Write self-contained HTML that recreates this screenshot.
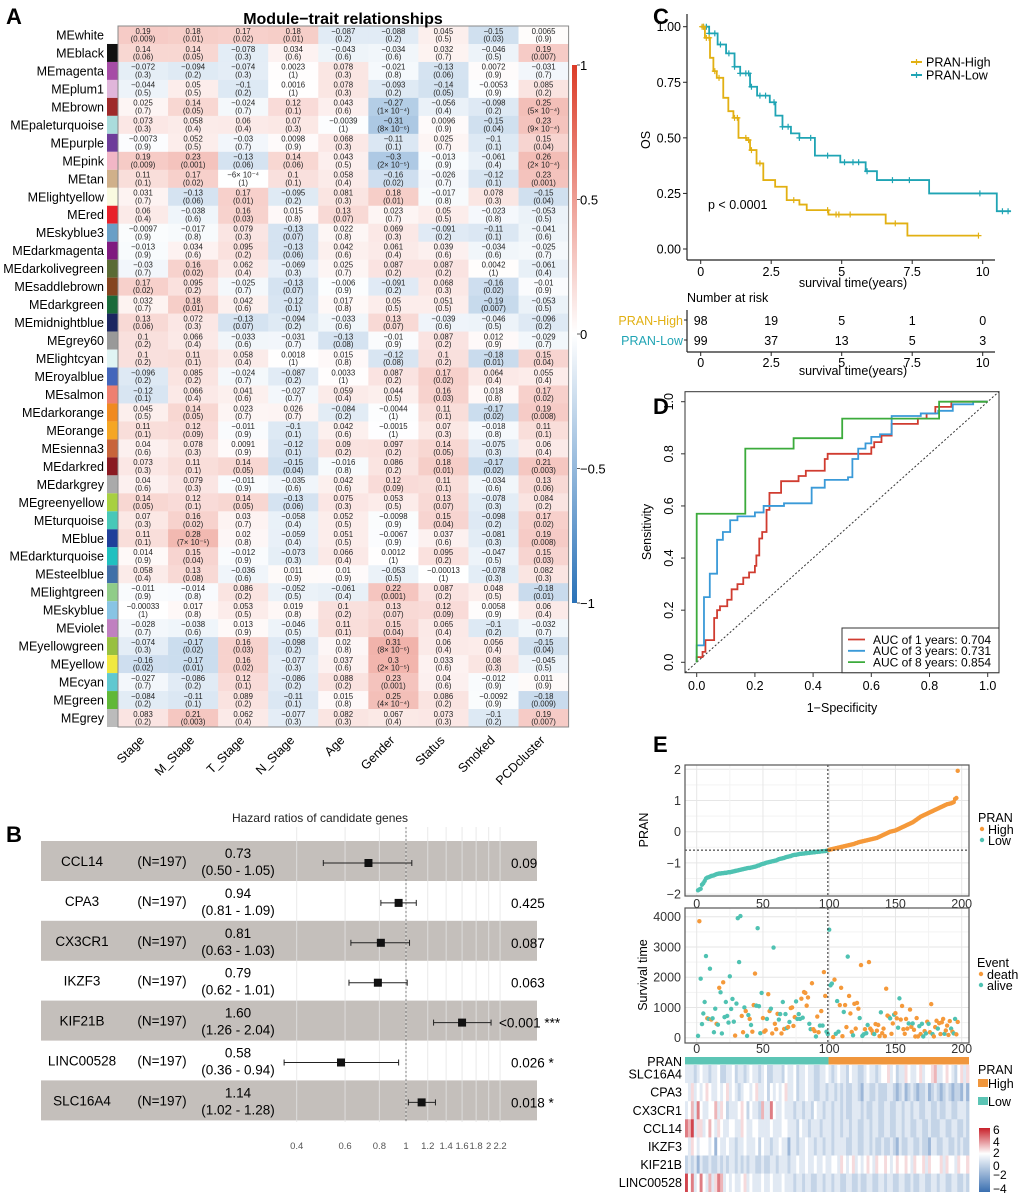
<!DOCTYPE html>
<html><head><meta charset="utf-8">
<style>
html,body{margin:0;padding:0;background:#fff;}
svg{display:block;font-family:"Liberation Sans",Arial,sans-serif;}
</style></head>
<body>
<svg id="fig" width="1020" height="1198" viewBox="0 0 1020 1198" xmlns="http://www.w3.org/2000/svg">
<defs>
<linearGradient id="gA" x1="0" y1="0" x2="0" y2="1">
<stop offset="0" stop-color="#dc3c28"/><stop offset="0.5" stop-color="#ffffff"/><stop offset="1" stop-color="#2a72b8"/>
</linearGradient>
<linearGradient id="gE" x1="0" y1="0" x2="0" y2="1">
<stop offset="0" stop-color="#c8202a"/><stop offset="0.4" stop-color="#ffffff"/><stop offset="1" stop-color="#3a6fb0"/>
</linearGradient>
</defs>
<text x="6" y="24" font-size="22" font-weight="bold">A</text>
<text x="6" y="842" font-size="22" font-weight="bold">B</text>
<text x="653" y="24" font-size="22" font-weight="bold">C</text>
<text x="653" y="414" font-size="22" font-weight="bold">D</text>
<text x="653" y="752" font-size="22" font-weight="bold">E</text>
</svg>
<script>
// ---------- Panel A data ----------
const modules=['MEwhite','MEblack','MEmagenta','MEplum1','MEbrown','MEpaleturquoise','MEpurple','MEpink','MEtan','MElightyellow','MEred','MEskyblue3','MEdarkmagenta','MEdarkolivegreen','MEsaddlebrown','MEdarkgreen','MEmidnightblue','MEgrey60','MElightcyan','MEroyalblue','MEsalmon','MEdarkorange','MEorange','MEsienna3','MEdarkred','MEdarkgrey','MEgreenyellow','MEturquoise','MEblue','MEdarkturquoise','MEsteelblue','MElightgreen','MEskyblue','MEviolet','MEyellowgreen','MEyellow','MEcyan','MEgreen','MEgrey'];
const moduleColors=['#ffffff','#111111','#a64ca6','#e0b6da','#9e2a2a','#aadcdc','#6e3d9a','#f2b6c6','#d0b08a','#fafae0','#e8202a','#6a9fc6','#7f1a7f','#5a6a34','#85441f','#1a6a3a','#1c2660','#999999','#e0f4f4','#4466bb','#ee8070','#f08a20','#f5a623','#c8643a','#8a1a22','#aaaaaa','#a8d040','#48c8b8','#1f3f9a','#20c0c0','#4070a8','#90cc88','#88c4e4','#c080c0','#98c040','#f0e840','#60c8d0','#60b838','#bbbbbb'];
const traits=['Stage','M_Stage','T_Stage','N_Stage','Age','Gender','Status','Smoked','PCDcluster'];
const corr=[
[0.19,0.18,0.17,0.18,-0.087,-0.088,0.045,-0.15,0.0065],
[0.14,0.14,-0.078,0.034,-0.043,-0.034,0.032,-0.046,0.19],
[-0.072,-0.094,-0.074,0.0023,0.078,-0.021,-0.13,0.0072,-0.031],
[-0.044,0.05,-0.1,0.0016,0.078,-0.093,-0.14,-0.0053,0.085],
[0.025,0.14,-0.024,0.12,0.043,-0.27,-0.056,-0.098,0.25],
[0.073,0.058,0.06,0.07,-0.0039,-0.31,0.0096,-0.15,0.23],
[-0.0073,0.052,-0.03,0.0098,0.068,-0.11,0.025,-0.1,0.15],
[0.19,0.23,-0.13,0.14,0.043,-0.3,-0.013,-0.061,0.26],
[0.11,0.17,-0.0006,0.1,0.058,-0.16,-0.026,-0.12,0.23],
[0.031,-0.13,0.17,-0.095,0.081,0.18,-0.017,0.078,-0.15],
[0.06,-0.038,0.16,0.015,0.13,0.023,0.05,-0.023,-0.053],
[-0.0097,-0.017,0.079,-0.13,0.022,0.069,-0.091,-0.11,-0.041],
[-0.013,0.034,0.095,-0.13,0.042,0.061,0.039,-0.034,-0.025],
[-0.03,0.16,0.062,-0.069,0.025,0.087,0.087,0.0042,-0.061],
[0.17,0.095,-0.025,-0.13,-0.006,-0.091,0.068,-0.16,-0.01],
[0.032,0.18,0.042,-0.12,0.017,0.05,0.051,-0.19,-0.053],
[0.13,0.072,-0.13,-0.094,-0.033,0.13,-0.039,-0.046,-0.096],
[0.1,0.066,-0.033,-0.031,-0.13,-0.01,0.087,0.012,-0.029],
[0.1,0.11,0.058,0.0018,0.015,-0.12,0.1,-0.18,0.15],
[-0.096,0.085,-0.024,-0.087,0.0033,0.087,0.17,0.064,0.055],
[-0.12,0.066,0.041,-0.027,0.059,0.044,0.16,0.018,0.17],
[0.045,0.14,0.023,0.026,-0.084,-0.0044,0.11,-0.17,0.19],
[0.11,0.12,-0.011,-0.1,0.042,-0.0015,0.07,-0.018,0.11],
[0.04,0.078,0.0091,-0.12,0.09,0.097,0.14,-0.075,0.06],
[0.073,0.11,0.14,-0.15,-0.016,0.086,0.18,-0.17,0.21],
[0.04,0.079,-0.011,-0.035,0.042,0.12,0.11,-0.034,0.13],
[0.14,0.12,0.14,-0.13,0.075,0.053,0.13,-0.078,0.084],
[0.07,0.16,0.03,-0.058,0.052,-0.0098,0.15,-0.098,0.17],
[0.11,0.28,0.02,-0.059,0.051,-0.0067,0.037,-0.081,0.19],
[0.014,0.15,-0.012,-0.073,0.066,0.0012,0.095,-0.047,0.15],
[0.058,0.13,-0.036,0.011,0.01,-0.053,-0.00013,-0.078,0.082],
[-0.011,-0.014,0.086,-0.052,-0.061,0.22,0.087,0.048,-0.18],
[-0.00033,0.017,0.053,0.019,0.1,0.13,0.12,0.0058,0.06],
[-0.028,-0.038,0.013,-0.046,0.11,0.15,0.065,-0.1,-0.032],
[-0.074,-0.17,0.16,-0.098,0.02,0.31,0.06,0.056,-0.15],
[-0.16,-0.17,0.16,-0.077,0.037,0.3,0.033,0.08,-0.045],
[-0.027,-0.086,0.12,-0.086,0.088,0.23,0.04,-0.012,0.011],
[-0.084,-0.11,0.089,-0.11,0.015,0.25,0.086,-0.0092,-0.18],
[0.083,0.21,0.062,-0.077,0.082,0.067,0.073,-0.1,0.19]];
const corrLabels={'-0.0006':'−6× 10⁻⁴'};
const pvals=[
['0.009','0.01','0.02','0.01','0.2','0.2','0.5','0.03','0.9'],
['0.06','0.05','0.3','0.6','0.6','0.6','0.7','0.5','0.007'],
['0.3','0.2','0.3','1','0.3','0.8','0.06','0.9','0.7'],
['0.5','0.5','0.2','1','0.3','0.2','0.05','0.9','0.2'],
['0.7','0.05','0.7','0.1','0.6','1× 10⁻⁴','0.4','0.2','5× 10⁻⁴'],
['0.3','0.4','0.4','0.3','1','8× 10⁻⁶','0.9','0.04','9× 10⁻⁴'],
['0.9','0.5','0.7','0.9','0.3','0.1','0.7','0.1','0.04'],
['0.009','0.001','0.06','0.06','0.5','2× 10⁻⁵','0.9','0.4','2× 10⁻⁴'],
['0.1','0.02','1','0.1','0.4','0.02','0.7','0.1','0.001'],
['0.7','0.06','0.01','0.2','0.3','0.01','0.8','0.3','0.04'],
['0.4','0.6','0.03','0.8','0.07','0.7','0.5','0.8','0.5'],
['0.9','0.8','0.3','0.07','0.8','0.3','0.2','0.1','0.6'],
['0.9','0.6','0.2','0.06','0.6','0.4','0.6','0.6','0.7'],
['0.7','0.02','0.4','0.3','0.7','0.2','0.2','1','0.4'],
['0.02','0.2','0.7','0.07','0.9','0.2','0.3','0.02','0.9'],
['0.7','0.01','0.6','0.1','0.8','0.5','0.5','0.007','0.5'],
['0.06','0.3','0.07','0.2','0.6','0.07','0.6','0.5','0.2'],
['0.2','0.4','0.6','0.7','0.08','0.9','0.2','0.9','0.7'],
['0.2','0.1','0.4','1','0.8','0.08','0.2','0.01','0.04'],
['0.2','0.2','0.7','0.2','1','0.2','0.02','0.4','0.4'],
['0.1','0.4','0.6','0.7','0.4','0.5','0.03','0.8','0.02'],
['0.5','0.05','0.7','0.7','0.2','1','0.1','0.02','0.008'],
['0.1','0.09','0.9','0.1','0.6','1','0.3','0.8','0.1'],
['0.6','0.3','0.9','0.1','0.2','0.2','0.05','0.3','0.4'],
['0.3','0.1','0.05','0.04','0.8','0.2','0.01','0.02','0.003'],
['0.6','0.3','0.9','0.6','0.6','0.09','0.1','0.6','0.06'],
['0.05','0.1','0.05','0.06','0.3','0.5','0.07','0.3','0.2'],
['0.3','0.02','0.7','0.4','0.5','0.9','0.04','0.2','0.02'],
['0.1','7× 10⁻⁵','0.8','0.4','0.5','0.9','0.6','0.3','0.008'],
['0.9','0.04','0.9','0.3','0.4','1','0.2','0.5','0.03'],
['0.4','0.08','0.6','0.9','0.9','0.5','1','0.3','0.3'],
['0.9','0.8','0.2','0.5','0.4','0.001','0.2','0.5','0.01'],
['1','0.8','0.5','0.8','0.2','0.07','0.09','0.9','0.4'],
['0.7','0.6','0.9','0.5','0.1','0.04','0.4','0.2','0.7'],
['0.3','0.02','0.03','0.2','0.8','8× 10⁻⁶','0.4','0.4','0.04'],
['0.02','0.01','0.02','0.3','0.6','2× 10⁻⁵','0.6','0.3','0.5'],
['0.7','0.2','0.1','0.2','0.2','0.001','0.6','0.9','0.9'],
['0.2','0.1','0.2','0.1','0.8','4× 10⁻⁴','0.2','0.9','0.009'],
['0.2','0.003','0.4','0.3','0.3','0.4','0.3','0.2','0.007']];
const colorbarTicksA=[1,0.5,0,-0.5,-1];

// ---------- Panel B data ----------
const genes=['CCL14','CPA3','CX3CR1','IKZF3','KIF21B','LINC00528','SLC16A4'];
const hr=[0.73,0.94,0.81,0.79,1.60,0.58,1.14];
const hrLo=[0.50,0.81,0.63,0.62,1.26,0.36,1.02];
const hrHi=[1.05,1.09,1.03,1.01,2.04,0.94,1.28];
const pLabels=['0.09','0.425','0.087','0.063','<0.001 ***','0.026 *','0.018 *'];
const forestTicks=[0.4,0.6,0.8,1,1.2,1.4,1.6,1.8,2,2.2];

// ---------- Panel C data ----------
const highT=[0,0.15,0.33,0.45,0.57,0.8,0.98,1.16,1.34,1.63,1.75,1.98,2.22,2.64,3.05,3.5,3.76,4.53,6.56,7.33];
const highS=[1,0.95,0.86,0.8,0.77,0.68,0.62,0.59,0.5,0.49,0.445,0.385,0.31,0.28,0.22,0.2,0.175,0.155,0.115,0.06];
const highEnd=9.85;
const lowT=[0,0.3,0.6,0.9,1.2,1.4,1.75,2.0,2.45,2.65,2.9,3.2,3.5,4.05,4.95,5.85,6.25,8.1,10.5];
const lowS=[1,0.97,0.92,0.88,0.82,0.79,0.73,0.69,0.66,0.6,0.55,0.52,0.5,0.42,0.39,0.35,0.31,0.25,0.17];
const lowEnd=11.0;
const highCens=[0.05,0.1,0.2,0.3,0.5,0.65,1.2,1.3,1.6,1.7,1.8,2.1,3.3,4.5,4.8,4.9,5.3,6.9,9.85];
const lowCens=[0.1,0.2,0.3,0.5,0.7,1.0,1.2,1.4,1.6,1.7,1.8,2.1,2.3,2.6,2.9,3.1,3.5,3.9,4.5,5.1,5.4,5.6,5.9,6.8,7.4,9.9,10.7,10.9];
const kmXTicks=[0,2.5,5,7.5,10];
const kmYTicks=[0,0.25,0.5,0.75,1];
const kmYLabels=['0.00','0.25','0.50','0.75','1.00'];
const riskTimes=[0,2.5,5,7.5,10];
const riskHigh=[98,19,5,1,0];
const riskLow=[99,37,13,5,3];

// ---------- Panel D data ----------
const roc1=[[0,0],[0,0.02],[0.02,0.02],[0.02,0.04],[0.03,0.04],[0.03,0.085],[0.06,0.085],[0.06,0.17],[0.07,0.17],[0.07,0.2],[0.08,0.2],[0.08,0.215],[0.105,0.215],[0.105,0.24],[0.12,0.24],[0.12,0.28],[0.14,0.28],[0.14,0.3],[0.16,0.3],[0.16,0.325],[0.18,0.325],[0.18,0.345],[0.2,0.345],[0.2,0.37],[0.205,0.37],[0.205,0.41],[0.215,0.41],[0.215,0.475],[0.225,0.475],[0.225,0.5],[0.24,0.5],[0.24,0.585],[0.25,0.585],[0.25,0.65],[0.29,0.65],[0.29,0.695],[0.35,0.695],[0.35,0.715],[0.375,0.715],[0.375,0.735],[0.44,0.735],[0.44,0.78],[0.45,0.78],[0.45,0.8],[0.6,0.8],[0.6,0.825],[0.61,0.825],[0.61,0.845],[0.635,0.845],[0.635,0.87],[0.67,0.87],[0.67,0.915],[0.76,0.915],[0.76,0.935],[0.79,0.935],[0.79,0.955],[0.82,0.955],[0.82,0.98],[0.875,0.98],[0.875,1],[1,1]];
const roc3=[[0,0],[0,0.065],[0.025,0.065],[0.025,0.25],[0.045,0.25],[0.045,0.34],[0.07,0.34],[0.07,0.47],[0.09,0.47],[0.09,0.5],[0.115,0.5],[0.115,0.545],[0.14,0.545],[0.14,0.56],[0.2,0.56],[0.2,0.575],[0.23,0.575],[0.23,0.6],[0.3,0.6],[0.3,0.61],[0.395,0.61],[0.395,0.67],[0.44,0.67],[0.44,0.7],[0.52,0.7],[0.52,0.71],[0.535,0.71],[0.535,0.78],[0.555,0.78],[0.555,0.82],[0.58,0.82],[0.58,0.84],[0.6,0.84],[0.6,0.865],[0.63,0.865],[0.63,0.875],[0.67,0.875],[0.67,0.945],[0.77,0.945],[0.77,0.955],[0.83,0.955],[0.83,0.965],[0.88,0.965],[0.88,0.99],[0.95,0.99],[0.95,1],[1,1]];
const roc8=[[0,0],[0,0.57],[0.167,0.57],[0.167,0.82],[0.333,0.82],[0.333,0.86],[0.5,0.86],[0.5,0.935],[0.833,0.935],[0.833,1],[1,1]];
const rocLabels=['AUC of 1 years: 0.704','AUC of 3 years: 0.731','AUC of 8 years: 0.854'];
const rocTicks=[0,0.2,0.4,0.6,0.8,1];

// ---------- Panel E data ----------
const riskScore=[-1.88,-1.85,-1.83,-1.7,-1.65,-1.58,-1.5,-1.47,-1.46,-1.44,-1.42,-1.41,-1.4,-1.38,-1.36,-1.35,-1.34,-1.34,-1.33,-1.33,-1.32,-1.32,-1.31,-1.3,-1.3,-1.29,-1.28,-1.27,-1.26,-1.25,-1.24,-1.23,-1.22,-1.21,-1.2,-1.19,-1.18,-1.17,-1.16,-1.16,-1.15,-1.14,-1.13,-1.12,-1.11,-1.09,-1.08,-1.06,-1.04,-1.03,-1.02,-1.0,-0.99,-0.98,-0.97,-0.96,-0.95,-0.94,-0.93,-0.92,-0.9,-0.88,-0.87,-0.86,-0.85,-0.84,-0.82,-0.81,-0.8,-0.79,-0.78,-0.76,-0.75,-0.74,-0.74,-0.73,-0.72,-0.71,-0.71,-0.7,-0.7,-0.69,-0.69,-0.68,-0.68,-0.67,-0.67,-0.66,-0.66,-0.65,-0.65,-0.64,-0.64,-0.63,-0.63,-0.62,-0.62,-0.61,-0.6,
-0.58,-0.57,-0.56,-0.55,-0.54,-0.53,-0.52,-0.51,-0.5,-0.49,-0.48,-0.47,-0.46,-0.45,-0.44,-0.43,-0.42,-0.41,-0.4,-0.39,-0.37,-0.36,-0.34,-0.33,-0.32,-0.31,-0.3,-0.29,-0.28,-0.27,-0.26,-0.25,-0.24,-0.23,-0.22,-0.21,-0.2,-0.18,-0.16,-0.14,-0.12,-0.1,-0.08,-0.06,-0.04,-0.02,0.0,0.01,0.02,0.03,0.04,0.06,0.08,0.1,0.12,0.14,0.16,0.18,0.2,0.22,0.24,0.26,0.28,0.3,0.33,0.36,0.39,0.42,0.45,0.48,0.5,0.52,0.54,0.56,0.58,0.6,0.62,0.64,0.66,0.68,0.7,0.72,0.74,0.76,0.78,0.8,0.82,0.84,0.86,0.88,0.89,0.9,0.91,0.93,0.95,1.05,1.08,1.95];
const riskCutoff=-0.59;
const survTime=[60,3850,1950,450,800,1180,2700,640,620,2280,600,640,180,960,460,430,1650,1500,140,1830,680,1180,720,500,2030,950,1280,530,70,1130,3950,2500,4020,720,180,1000,880,60,750,620,420,200,1080,2120,1060,3620,1040,150,1480,650,200,240,620,1440,880,960,140,2980,460,280,790,600,780,140,1180,290,780,320,350,520,980,1000,390,680,1200,620,780,620,1290,660,1510,1480,1060,1330,460,280,1800,280,220,40,700,180,400,880,400,2170,1380,200,120,
3570,1730,1790,20,1920,130,1210,200,1080,1650,50,850,1080,350,2680,1380,800,190,80,1120,300,1150,960,650,2400,60,110,280,150,420,2500,300,240,140,120,450,230,420,50,840,150,300,50,1620,730,700,640,130,470,760,810,640,330,1300,600,1050,280,130,620,300,470,930,360,470,260,40,650,40,380,120,460,40,220,140,530,460,180,1110,120,40,350,560,300,480,120,510,620,130,240,400,90,550,300,200,140,620,110,520];
const survEvent="adaaaaadaadaaadadaadaaaaaaaadaaaaddadaadadddaaaaadddaddadadddaadadaadaddddaaaadaddddaadddaddadaddaaa"+"aaddaaadddaddadddaddddadaadaaddddaddddaddddddaddaddaaddddddaddaddddadaadadaddadddaddddaddddadaadd";
const survTicks=[0,1000,2000,3000,4000];
const idxTicks=[0,50,100,150,200];
const riskTicks=[-2,-1,0,1,2];
const hmGenes=['SLC16A4','CPA3','CX3CR1','CCL14','IKZF3','KIF21B','LINC00528'];
const hmRows=[
"4443454434453344534434544345334443544534454433445434544354433454434556453446544564556744565435646",
"5464545654454564543455456445354545644534454433443443434334432443343334432342343233423432343233242",
"4574854455746534445653544374485445444344344354434434434334443433443344334434434433443343344334443",
"8794664575465445544654455444454445544435443444344434434434433443443344334434433443343334433443343",
"5465455545254454434454445354434454424434454434434434444334433443433433432433443343324433443343433",
"3434243343343434434343443343344344434454454454454455465456454565465565456556546556465556465546556",
"9584585474687454544564544454454445444344344334434434433443343344334434433443343344334434433443343"];
const hmLevelValues=[-4,-3,-2,-1.2,-0.6,0,1,2,3.5,5];

// ---------- helpers ----------
const NS='http://www.w3.org/2000/svg';
const svg=document.getElementById('fig');
function mk(tag,attrs,parent){const e=document.createElementNS(NS,tag);for(const k in attrs)e.setAttribute(k,attrs[k]);(parent||svg).appendChild(e);return e;}
function tx(x,y,s,attrs,parent){const e=mk('text',Object.assign({x:x,y:y},attrs||{}),parent);e.textContent=s;return e;}
function lerp(a,b,t){return Math.round(a+(b-a)*t);}
function mix(c1,c2,t){return 'rgb('+lerp(c1[0],c2[0],t)+','+lerp(c1[1],c2[1],t)+','+lerp(c1[2],c2[2],t)+')';}
function fmt(v){return (v<0?'−':'')+String(Math.abs(v));}

// ================= PANEL A =================
const gA=mk('g',{});


const A_L=118,A_R=568.6,A_T=26,A_B=727;
const cw=(A_R-A_L)/traits.length, rh=(A_B-A_T)/modules.length;
const tA=tx(343,24,'Module−trait relationships',{'font-size':16,'font-weight':'bold','text-anchor':'middle'});


function corrColor(v){const t=Math.pow(Math.min(1,Math.abs(v)),0.8);return v>=0?mix([255,255,255],[220,60,40],t):mix([255,255,255],[42,114,184],t);}
modules.forEach((m,i)=>{
  const y=A_T+i*rh;
  const lab=tx(104,y+rh/2+4.5,m,{'font-size':12.5,'text-anchor':'end'},gA);
  
  
  const sw=mk('rect',{x:107,y:y,width:10.5,height:rh,fill:moduleColors[i]},gA);
  
  
  traits.forEach((t,j)=>{
    const v=corr[i][j];
    const c=mk('rect',{x:A_L+j*cw,y:y,width:cw+0.3,height:rh+0.3,fill:corrColor(v)},gA);
    
    
    const key=String(v);
    tx(A_L+j*cw+cw/2,y+7.8,corrLabels[key]||fmt(v),{'font-size':7.8,'text-anchor':'middle',fill:'#222'},gA);
    tx(A_L+j*cw+cw/2,y+15.6,'('+pvals[i][j]+')',{'font-size':7.8,'text-anchor':'middle',fill:'#222'},gA);
  });
});
mk('rect',{x:A_L,y:A_T,width:A_R-A_L,height:A_B-A_T,fill:'none',stroke:'#888','stroke-width':1},gA);
traits.forEach((t,j)=>{
  const x=A_L+j*cw+cw/2+2, y=741;
  const l=tx(x,y,t,{'font-size':12.5,'text-anchor':'end',transform:'rotate(-45 '+x+' '+y+')'},gA);
  
  
});
const cbA=mk('rect',{x:572,y:65,width:5,height:538,fill:'url(#gA)'});


colorbarTicksA.forEach(v=>{
  const y=334-269*v;
  mk('line',{x1:577,x2:580,y1:y,y2:y,stroke:'#333','stroke-width':0.8});
  tx(580,y+5,fmt(v),{'font-size':13});
});

// ================= PANEL B =================
const gB=mk('g',{});


function xF(v){return 406+119.3*Math.log(v);}
tx(320,822,'Hazard ratios of candidate genes',{'font-size':12,'text-anchor':'middle',fill:'#222'},gB);
const rowY=i=>861+39.9*i;
genes.forEach((g,i)=>{ if(i%2===0){const b=mk('rect',{x:41,y:rowY(i)-20,width:496,height:40,fill:'#c4bfbb'},gB);
  
  }});
forestTicks.forEach(v=>{
  mk('line',{x1:xF(v),x2:xF(v),y1:827,y2:1122,stroke:'#e4e4e4','stroke-width':1,opacity:0.8},gB);
  tx(xF(v),1149,String(v),{'font-size':9.5,'text-anchor':'middle',fill:'#555'},gB);
});
mk('line',{x1:xF(1),x2:xF(1),y1:827,y2:1122,stroke:'#666','stroke-width':0.8,'stroke-dasharray':'2,2'},gB);
genes.forEach((g,i)=>{
  const y=rowY(i);
  tx(82,y+5,g,{'font-size':13.5,'text-anchor':'middle'},gB);
  tx(162,y+5,'(N=197)',{'font-size':13.5,'text-anchor':'middle'},gB);
  tx(238,y-3,hr[i].toFixed(2),{'font-size':13.5,'text-anchor':'middle'},gB);
  tx(238,y+14,'('+hrLo[i].toFixed(2)+' - '+hrHi[i].toFixed(2)+')',{'font-size':13.5,'text-anchor':'middle'},gB);
  const ci=mk('line',{x1:xF(hrLo[i]),x2:xF(hrHi[i]),y1:y+2,y2:y+2,stroke:'#222','stroke-width':1},gB);
  
  
  mk('line',{x1:xF(hrLo[i]),x2:xF(hrLo[i]),y1:y-1,y2:y+5,stroke:'#222','stroke-width':1},gB);
  mk('line',{x1:xF(hrHi[i]),x2:xF(hrHi[i]),y1:y-1,y2:y+5,stroke:'#222','stroke-width':1},gB);
  const sq=mk('rect',{x:xF(hr[i])-4,y:y-2,width:8,height:8,fill:'#111'},gB);
  
  
  const px=pLabels[i].charAt(0)==='<'?499:511;
  tx(px,y+7,pLabels[i],{'font-size':13.5},gB);
});

// ================= PANEL C =================
const gC=mk('g',{});


function xC(t){return 700.7+28.2*t;}
function yC(s){return 249-222.3*s;}
mk('line',{x1:687,x2:687,y1:14,y2:260,stroke:'#222','stroke-width':1.2},gC);
mk('line',{x1:687,x2:995,y1:260,y2:260,stroke:'#222','stroke-width':1.2},gC);
kmXTicks.forEach(t=>{mk('line',{x1:xC(t),x2:xC(t),y1:260,y2:264,stroke:'#222'},gC);tx(xC(t),276,String(t),{'font-size':12.5,'text-anchor':'middle'},gC);});
kmYTicks.forEach((s,k)=>{mk('line',{x1:683,x2:687,y1:yC(s),y2:yC(s),stroke:'#222'},gC);tx(681,yC(s)+4.5,kmYLabels[k],{'font-size':12.5,'text-anchor':'end'},gC);});
tx(853,287,'survival time(years)',{'font-size':12.5,'text-anchor':'middle'},gC);
tx(650,140,'OS',{'font-size':12.5,'text-anchor':'middle',transform:'rotate(-90 650 140)'},gC);
function stepPath(T,S,end){let d='M'+xC(T[0])+','+yC(S[0]);for(let k=1;k<T.length;k++){d+=' H'+xC(T[k])+' V'+yC(S[k]);}d+=' H'+xC(end);return d;}
function survAt(T,S,t){let s=S[0];for(let k=0;k<T.length;k++){if(T[k]<=t)s=S[k];}return s;}
const kmSeries=[[lowT,lowS,lowEnd,lowCens,'#1fa4b4','km-low-curve'],[highT,highS,highEnd,highCens,'#e2b012','km-high-curve']];
kmSeries.forEach(ser=>{
  const p=mk('path',{d:stepPath(ser[0],ser[1],ser[2]),fill:'none',stroke:ser[4],'stroke-width':1.8},gC);
  
  
  ser[3].forEach(t=>{const x=xC(t),y=yC(survAt(ser[0],ser[1],t));
    mk('path',{d:'M'+(x-3)+','+y+' H'+(x+3)+' M'+x+','+(y-3)+' V'+(y+3),stroke:ser[4],'stroke-width':1.2},gC);});
});
tx(708,209,'p < 0.0001',{'font-size':12.5},gC);
[['PRAN-High','#e2b012',62],['PRAN-Low','#1fa4b4',75]].forEach(l=>{
  mk('line',{x1:911,x2:922,y1:l[2],y2:l[2],stroke:l[1],'stroke-width':2},gC);
  mk('line',{x1:916.5,x2:916.5,y1:l[2]-3,y2:l[2]+3,stroke:l[1],'stroke-width':1.2},gC);
  const t=tx(926,l[2]+4.5,l[0],{'font-size':12.5},gC);
  
  
});
tx(687,302,'Number at risk',{'font-size':12.5},gC);
tx(683,325,'PRAN-High',{'font-size':12.5,'text-anchor':'end',fill:'#e2b012'},gC);
tx(683,345,'PRAN-Low',{'font-size':12.5,'text-anchor':'end',fill:'#1fa4b4'},gC);
mk('line',{x1:687,x2:687,y1:310,y2:352,stroke:'#222','stroke-width':1.2},gC);
mk('line',{x1:687,x2:995,y1:352,y2:352,stroke:'#222','stroke-width':1.2},gC);
mk('line',{x1:684,x2:687,y1:320,y2:320,stroke:'#222'},gC);
mk('line',{x1:684,x2:687,y1:340,y2:340,stroke:'#222'},gC);
riskTimes.forEach((t,k)=>{
  const a=tx(xC(t),325,String(riskHigh[k]),{'font-size':12.5,'text-anchor':'middle'},gC);
  
  
  const b=tx(xC(t),345,String(riskLow[k]),{'font-size':12.5,'text-anchor':'middle'},gC);
  
  
  mk('line',{x1:xC(t),x2:xC(t),y1:352,y2:356,stroke:'#222'},gC);
  tx(xC(t),367,String(t),{'font-size':12.5,'text-anchor':'middle'},gC);
});
tx(853,375,'survival time(years)',{'font-size':12.5,'text-anchor':'middle'},gC);

// ================= PANEL D =================
const gD=mk('g',{});


function xD(f){return 696.7+291*f;}
function yD(s){return 662.3-260.6*s;}
mk('rect',{x:685,y:391.7,width:314,height:281,fill:'none',stroke:'#333','stroke-width':1},gD);
rocTicks.forEach(v=>{
  mk('line',{x1:xD(v),x2:xD(v),y1:672.7,y2:677,stroke:'#333'},gD);
  tx(xD(v),690,v.toFixed(1),{'font-size':12.5,'text-anchor':'middle'},gD);
  mk('line',{x1:681,x2:685,y1:yD(v),y2:yD(v),stroke:'#333'},gD);
  tx(673,yD(v),v.toFixed(1),{'font-size':12.5,'text-anchor':'middle',transform:'rotate(-90 673 '+yD(v)+')'},gD);
});
tx(842,712,'1−Specificity',{'font-size':12.5,'text-anchor':'middle'},gD);
tx(651,532,'Sensitivity',{'font-size':12.5,'text-anchor':'middle',transform:'rotate(-90 651 532)'},gD);
mk('line',{x1:xD(-0.04),y1:yD(-0.04),x2:xD(1.04),y2:yD(1.04),stroke:'#333','stroke-width':1,'stroke-dasharray':'2,2'},gD);
const rocSeries=[[roc1,'#d03c30','roc-1-year'],[roc3,'#3a9ad8','roc-3-year'],[roc8,'#3cab3c','roc-8-year']];
rocSeries.forEach(s=>{
  const p=mk('polyline',{points:s[0].map(q=>xD(q[0])+','+yD(q[1])).join(' '),fill:'none',stroke:s[1],'stroke-width':1.8},gD);
  
  
});
const lgD=mk('rect',{x:842,y:628,width:157,height:44.7,fill:'#fff',stroke:'#333','stroke-width':1},gD);


rocSeries.forEach((s,k)=>{
  const y=639.5+11.3*k;
  mk('line',{x1:848,x2:865,y1:y,y2:y,stroke:s[1],'stroke-width':1.8},gD);
  tx(873,y+4.3,rocLabels[k],{'font-size':12},gD);
});

// ================= PANEL E =================
const gE=mk('g',{});


const E_L=685,E_R=969;
function xE(i){return 696.7+1.325*i;}
function yE1(v){return 831.7-31.2*v;}
function yE2(t){return 1037.7-0.03025*t;}
mk('rect',{x:E_L,y:765,width:E_R-E_L,height:131,fill:'#fff'},gE);
for(let v=-2;v<=2;v+=0.5){mk('line',{x1:E_L,x2:E_R,y1:yE1(v),y2:yE1(v),stroke:(v%1===0)?'#e6e6e6':'#f3f3f3'},gE);}
for(let i=0;i<=200;i+=25){mk('line',{x1:xE(i),x2:xE(i),y1:765,y2:896,stroke:(i%50===0)?'#e6e6e6':'#f3f3f3'},gE);}
riskTicks.forEach(v=>{tx(681,yE1(v)+4.5,fmt(v),{'font-size':12.5,'text-anchor':'end',fill:'#333'},gE);});
idxTicks.forEach(i=>{tx(xE(i),908,String(i),{'font-size':12.5,'text-anchor':'middle',fill:'#333'},gE);});
riskScore.forEach((v,k)=>{
  const d=mk('circle',{cx:xE(k+1),cy:yE1(v),r:2.2,fill:v>riskCutoff?'#f5993a':'#4fc2b2'},gE);
  
  
});
const nLow=riskScore.filter(v=>v<=riskCutoff).length;
mk('line',{x1:E_L,x2:E_R,y1:yE1(riskCutoff),y2:yE1(riskCutoff),stroke:'#222','stroke-dasharray':'2,2'},gE);
mk('line',{x1:xE(nLow),x2:xE(nLow),y1:765,y2:896,stroke:'#222','stroke-dasharray':'2,2'},gE);
mk('rect',{x:E_L,y:765,width:E_R-E_L,height:131,fill:'none',stroke:'#555','stroke-width':1.2},gE);
tx(648,830,'PRAN',{'font-size':12.5,'text-anchor':'middle',transform:'rotate(-90 648 830)'},gE);
tx(978,822,'PRAN',{'font-size':12.5},gE);
mk('circle',{cx:982,cy:829,r:2.2,fill:'#f5993a'},gE);tx(988,834,'High',{'font-size':12.5},gE);
mk('circle',{cx:982,cy:840,r:2.2,fill:'#4fc2b2'},gE);tx(988,845,'Low',{'font-size':12.5},gE);
mk('rect',{x:E_L,y:908,width:E_R-E_L,height:135,fill:'#fff'},gE);
for(let t=0;t<=4000;t+=500){mk('line',{x1:E_L,x2:E_R,y1:yE2(t),y2:yE2(t),stroke:(t%1000===0)?'#e6e6e6':'#f3f3f3'},gE);}
for(let i=0;i<=200;i+=25){mk('line',{x1:xE(i),x2:xE(i),y1:908,y2:1043,stroke:(i%50===0)?'#e6e6e6':'#f3f3f3'},gE);}
survTicks.forEach(t=>{tx(681,yE2(t)+4.5,String(t),{'font-size':12.5,'text-anchor':'end',fill:'#333'},gE);});
idxTicks.forEach(i=>{tx(xE(i),1053,String(i),{'font-size':12.5,'text-anchor':'middle',fill:'#333'},gE);});
survTime.forEach((t,k)=>{
  const d=mk('circle',{cx:xE(k+1),cy:yE2(t),r:2.2,fill:survEvent.charAt(k)==='d'?'#f5993a':'#4fc2b2'},gE);
  
  
});
mk('line',{x1:xE(nLow),x2:xE(nLow),y1:908,y2:1043,stroke:'#222','stroke-dasharray':'2,2'},gE);
mk('rect',{x:E_L,y:908,width:E_R-E_L,height:135,fill:'none',stroke:'#555','stroke-width':1.2},gE);
tx(647,975,'Survival time',{'font-size':12.5,'text-anchor':'middle',transform:'rotate(-90 647 975)'},gE);
tx(977,967,'Event',{'font-size':12.5},gE);
mk('circle',{cx:981,cy:974,r:2.2,fill:'#f5993a'},gE);tx(987,979,'death',{'font-size':12.5},gE);
mk('circle',{cx:981,cy:985,r:2.2,fill:'#4fc2b2'},gE);tx(987,990,'alive',{'font-size':12.5},gE);
const hmL=685,hmW=284,hmT=1065,hmRH=18.1;
const barLow=mk('rect',{x:hmL,y:1057,width:xE(nLow+0.5)-hmL,height:7.5,fill:'#5cc5b5'},gE);


const barHigh=mk('rect',{x:xE(nLow+0.5),y:1057,width:hmL+hmW-xE(nLow+0.5),height:7.5,fill:'#f0963c'},gE);


tx(682,1066,'PRAN',{'font-size':12.5,'text-anchor':'end'},gE);
function hmColor(v){return v>=0?mix([255,255,255],[200,32,42],Math.min(1,v/6)):mix([255,255,255],[58,111,176],Math.min(1,-v/4));}
hmRows.forEach((row,r)=>{
  const y=hmT+r*hmRH, w=hmW/row.length;
  for(let c=0;c<row.length;c++){
    const v=hmLevelValues[+row.charAt(c)];
    const cell=mk('rect',{x:hmL+c*w,y:y,width:w+0.4,height:hmRH+0.3,fill:hmColor(v)},gE);
    
    
  }
  const l=tx(682,y+hmRH/2+4.5,hmGenes[r],{'font-size':12.5,'text-anchor':'end'},gE);
  
  
});
tx(978,1074,'PRAN',{'font-size':12.5},gE);
mk('rect',{x:978,y:1079,width:10,height:8,fill:'#f0963c'},gE);tx(988,1088,'High',{'font-size':12.5},gE);
mk('rect',{x:978,y:1097,width:10,height:8,fill:'#5cc5b5'},gE);tx(988,1106,'Low',{'font-size':12.5},gE);
const cbE=mk('rect',{x:979,y:1128,width:11,height:64,fill:'url(#gE)'},gE);


[['6',1134],['4',1146],['2',1157],['0',1170],['−2',1179],['−4',1193]].forEach(p=>tx(993,p[1],p[0],{'font-size':12},gE));
</script>
</body></html>
